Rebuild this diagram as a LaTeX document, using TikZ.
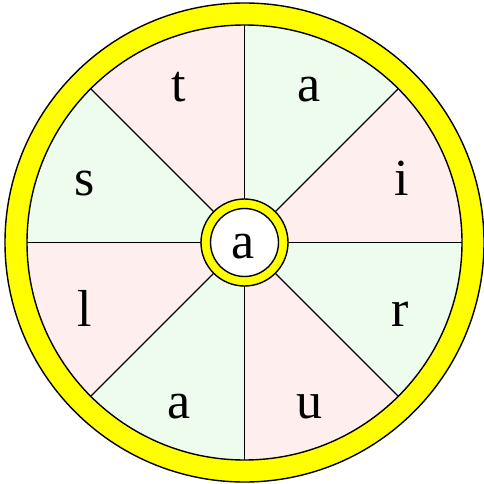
\documentclass[tikz,border=0pt]{standalone}
\usepackage{fontspec}
\setmainfont{Liberation Serif}
\definecolor{pinkfill}{HTML}{FFEEEE}
\definecolor{greenfill}{HTML}{EEFCEE}
\definecolor{rimyellow}{HTML}{FFFF00}
\begin{document}
\begin{tikzpicture}[x=1pt,y=-1pt,
  letter/.style={anchor=base,font=\fontsize{52}{52}\selectfont,inner sep=0pt},
  edge/.style={draw=black,line width=1.4pt}]
\useasboundingbox (0,0) rectangle (484,484);
\coordinate (C) at (244.5,242.5);
% outer yellow rim
\fill[rimyellow,even odd rule] (C) circle[radius=239.5] (C) circle[radius=217.5];
% sectors
\foreach \a/\c in {0/pinkfill,45/greenfill,90/pinkfill,135/greenfill,180/pinkfill,225/greenfill,270/pinkfill,315/greenfill}{
  \fill[\c] (C) -- ++(-\a:217.5) arc[start angle=-\a,delta angle=-45,radius=217.5] -- cycle;
}
% spokes
\foreach \a in {0,45,...,315}{
  \draw[line width=1.3pt] (C) ++(\a:43) -- ++(\a:174.5);
}
\draw[edge] (C) circle[radius=239.5];
\draw[edge] (C) circle[radius=217.5];
% hub
\fill[rimyellow] (C) circle[radius=43.5];
\fill[white] (C) circle[radius=34];
\draw[edge] (C) circle[radius=43.5];
\draw[edge] (C) circle[radius=34];
% letters
\node[letter] (lt) at (179,102) {t};
\node[letter] (la1) at (309,102) {a};
\node[letter] (ls) at (85,195) {s};
\node[letter] (li) at (402,195) {i};
\node[letter] (ll) at (85,326) {l};
\node[letter] (lr) at (400,326) {r};
\node[letter] (la2) at (179,418) {a};
\node[letter] (lu) at (309,418) {u};
\node[letter] (lc) at (243,258) {a};
\end{tikzpicture}
\end{document}
